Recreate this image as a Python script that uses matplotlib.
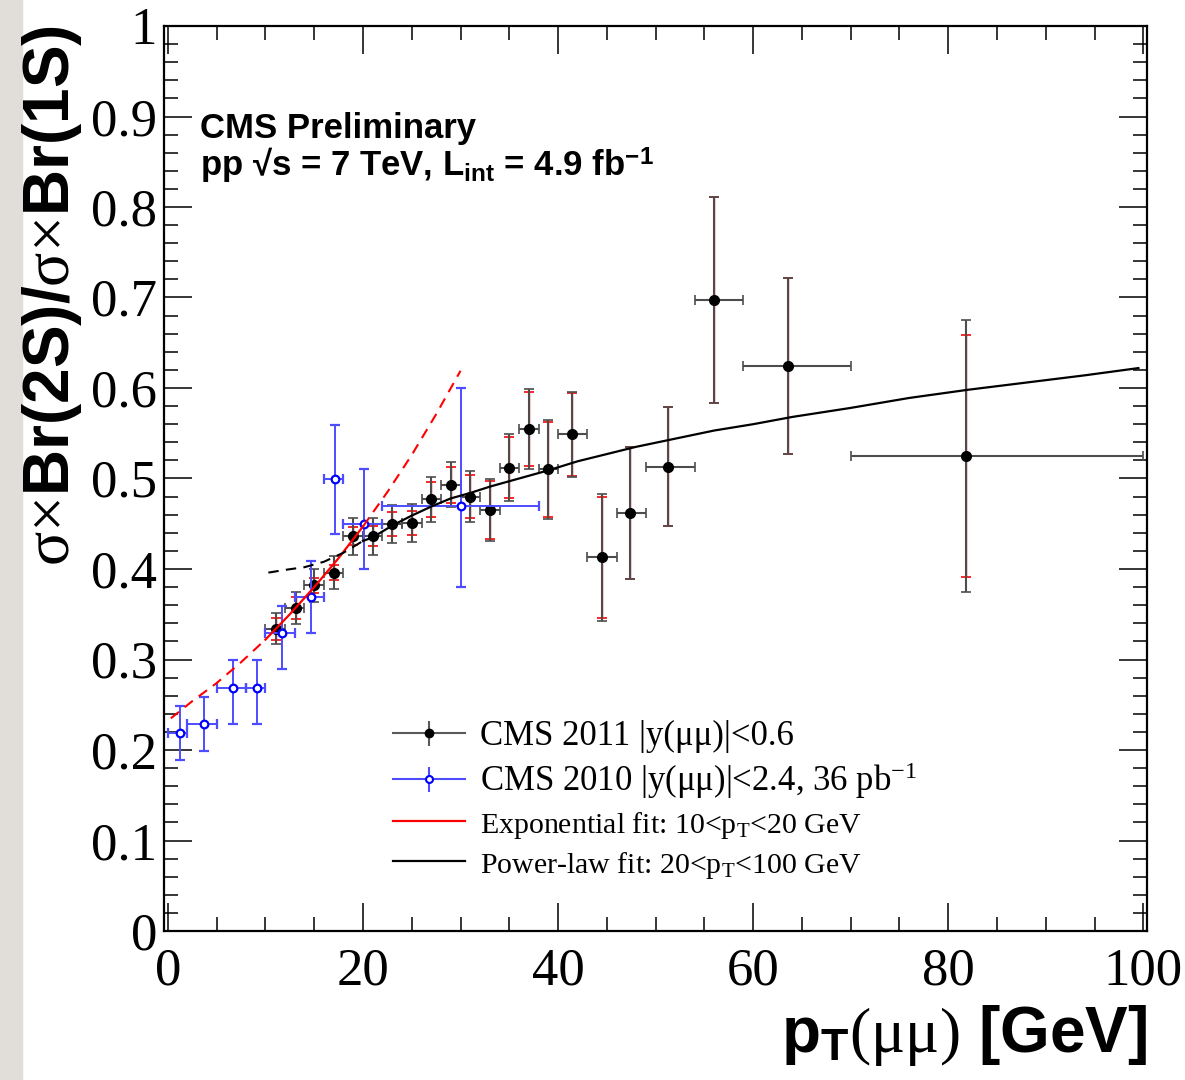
import numpy as np
import matplotlib
matplotlib.use('Agg')
import matplotlib.pyplot as plt
from matplotlib.patches import Rectangle
from matplotlib.lines import Line2D
from matplotlib.ticker import MultipleLocator, FuncFormatter

plt.rcParams['font.family'] = ['Liberation Serif', 'DejaVu Serif']
plt.rcParams['mathtext.fontset'] = 'custom'
plt.rcParams['mathtext.rm'] = 'Liberation Serif'
plt.rcParams['mathtext.it'] = 'Liberation Serif:italic'
plt.rcParams['mathtext.bf'] = 'Liberation Serif:bold'

SANS = ['Liberation Sans', 'DejaVu Sans']

# CMS 2011, |y(mumu)|<0.6
pt11 = np.array([11.1, 13.1, 15.0, 17.0, 19.0, 21.0, 23.0, 25.0, 27.0, 29.0, 31.0,
                 33.0, 35.0, 37.0, 39.0, 41.4, 44.5, 47.4, 51.25, 56.0, 63.6, 81.85])
edges11 = np.array([10, 12, 14, 16, 18, 20, 22, 24, 26, 28, 30, 32, 34, 36, 38, 40,
                    43, 46, 49, 54, 59, 70, 100])
ratio11 = np.array([0.334, 0.357, 0.382, 0.396, 0.436, 0.436, 0.450, 0.451, 0.477,
                    0.493, 0.480, 0.465, 0.512, 0.555, 0.510, 0.549, 0.413, 0.462,
                    0.513, 0.697, 0.624, 0.525])
tot11 = np.array([0.017, 0.0175, 0.018, 0.018, 0.020, 0.020, 0.021, 0.021, 0.025,
                  0.025, 0.028, 0.034, 0.037, 0.044, 0.055, 0.047, 0.070, 0.073,
                  0.066, 0.114, 0.097, 0.150])
stat11 = np.array([0.012, 0.012, 0.008, 0.008, 0.010, 0.011, 0.013, 0.013, 0.019,
                   0.020, 0.024, 0.032, 0.034, 0.041, 0.052, 0.046, 0.067, 0.073,
                   0.066, 0.114, 0.097, 0.134])

# CMS 2010, |y(mumu)|<2.4
pt10 = np.array([1.23, 3.66, 6.7, 9.16, 11.7, 14.67, 17.1, 20.1, 30.05])
lo10 = np.array([0, 2, 5, 8, 10, 13, 16, 18, 22])
hi10 = np.array([2, 5, 8, 10, 13, 16, 18, 22, 38])
ratio10 = np.array([0.219, 0.229, 0.269, 0.269, 0.329, 0.369, 0.499, 0.450, 0.470])
errlo10 = np.array([0.03, 0.03, 0.04, 0.04, 0.04, 0.04, 0.06, 0.05, 0.09])
errhi10 = np.array([0.03, 0.03, 0.03, 0.03, 0.03, 0.04, 0.06, 0.06, 0.13])

# fit curves
exp_x = np.array([0.3, 2.5, 5, 7.5, 10, 12.5, 15, 17.5, 20, 22.5, 25, 27.5, 30])
exp_y = np.array([0.235, 0.254, 0.274, 0.297, 0.322, 0.350, 0.380, 0.412, 0.447,
                  0.485, 0.526, 0.571, 0.619])
pw_x = np.array([10.3, 12, 14, 16, 18, 20, 21, 23, 25, 27, 29, 31, 33, 36, 39, 42,
                 45, 48, 52, 56, 60, 64, 70, 76, 82, 88, 94, 99.5])
pw_y = np.array([0.396, 0.399, 0.402, 0.408, 0.418, 0.431, 0.435, 0.448, 0.459,
                 0.469, 0.478, 0.484, 0.491, 0.500, 0.509, 0.519, 0.527, 0.535,
                 0.544, 0.553, 0.560, 0.568, 0.578, 0.589, 0.598, 0.606, 0.614, 0.622])

W, H = 1185, 1080
fig = plt.figure(figsize=(W / 100, H / 100), dpi=100)
fig.patches.append(Rectangle((0, 0), 22 / W, 1, transform=fig.transFigure,
                             color='#e1deda', zorder=0))
ax = fig.add_axes([164 / W, 1 - 931 / H, (1146.7 - 164) / W, (931 - 26) / H])

xerr11 = [pt11 - edges11[:-1], edges11[1:] - pt11]
ax.errorbar(pt11, ratio11, yerr=stat11, fmt='none', ecolor='red', elinewidth=1.0,
            capsize=3.5, capthick=1.2, zorder=3)
ax.errorbar(pt11, ratio11, xerr=xerr11, yerr=tot11, fmt='o', color='black', ms=7,
            ecolor='0.3', elinewidth=1.5, capsize=3.5, capthick=1.2, zorder=4)

ax.errorbar(pt10, ratio10, xerr=[pt10 - lo10, hi10 - pt10], yerr=[errlo10, errhi10],
            fmt='o', mfc='white', mec='blue', mew=1.6, ms=5.5, ecolor='#4d4dff',
            elinewidth=1.4, capsize=3.5, capthick=1.2, zorder=5)

# exponential fit: solid 10-20, dashed outside
m_in = (exp_x >= 10) & (exp_x <= 20)
ax.plot(exp_x[exp_x <= 10], exp_y[exp_x <= 10], color='red', lw=1.5, ls=(0, (5, 3.5)), zorder=6)
ax.plot(exp_x[exp_x >= 20], exp_y[exp_x >= 20], color='red', lw=1.5, ls=(0, (5, 3.5)), zorder=6)
ax.plot(exp_x[m_in], exp_y[m_in], color='red', lw=1.6, zorder=6)
# power-law fit: dashed below 20, solid above
ax.plot(pw_x[pw_x <= 20], pw_y[pw_x <= 20], color='black', lw=1.5, ls=(0, (5, 3.5)), zorder=6)
ax.plot(pw_x[pw_x >= 20], pw_y[pw_x >= 20], color='black', lw=1.6, zorder=6)

ax.set_xlim(-0.4, 100.35)
ax.set_ylim(0, 1)
ax.xaxis.set_major_locator(MultipleLocator(20))
ax.xaxis.set_minor_locator(MultipleLocator(5))
ax.yaxis.set_major_locator(MultipleLocator(0.1))
ax.yaxis.set_minor_locator(MultipleLocator(0.02))
ax.yaxis.set_major_formatter(FuncFormatter(lambda v, p: f'{v:g}'))
ax.tick_params(which='both', direction='in', top=True, right=True, labelsize=38)
ax.tick_params(which='major', length=20, width=1.1)
ax.tick_params(which='minor', length=10, width=1.1)
ax.tick_params(axis='x', pad=12)
ax.tick_params(axis='y', pad=5)
for s in ax.spines.values():
    s.set_linewidth(1.6)

# legend
h11 = (Line2D([], [], color='0.35', lw=1.5, marker='|', ms=18, mew=1.5),
       Line2D([], [], ls='none', marker='o', color='black', ms=6))
h10 = (Line2D([], [], color='#4d4dff', lw=1.5, marker='|', ms=18, mew=1.5),
       Line2D([], [], ls='none', marker='o', mfc='white', mec='blue', mew=1.5, ms=5))
hexp = Line2D([], [], color='red', lw=1.6)
hpw = Line2D([], [], color='black', lw=1.6)
leg = ax.legend([h11, h10, hexp, hpw],
                ['CMS 2011 |y(μμ)|<0.6',
                 r'CMS 2010 |y(μμ)|<2.4, 36 pb$^{\mathregular{-1}}$',
                 r'Exponential fit: 10<p$_{\mathregular{T}}$<20 GeV',
                 r'Power-law fit: 20<p$_{\mathregular{T}}$<100 GeV'],
                loc='upper left', bbox_to_anchor=(393 / W, 1 - 720 / H),
                bbox_transform=fig.transFigure, frameon=False, borderpad=0,
                borderaxespad=0, handlelength=2.07, handletextpad=0.43,
                labelspacing=0.22, prop={'family': 'Liberation Serif', 'size': 25})
for t in leg.get_texts()[2:]:
    t.set_fontsize(21.5)

fig.text(200 / W, 1 - 138 / H, 'CMS Preliminary', fontsize=25, fontweight='bold',
         family=SANS, va='baseline')
fig.text(200 / W, 1 - 177 / H,
         r'pp √s = 7 TeV, L$_{\mathregular{int}}$ = 4.9 fb$^{\mathregular{-1}}$',
         fontsize=25, fontweight='bold', family=SANS, va='baseline')

fig.text(1147 / W, 1 - 1052 / H, r'p$_{\mathregular{T}}\mathrm{(μμ)}$ [GeV]',
         fontsize=46, fontweight='bold', family=SANS, ha='right', va='baseline')
fig.text(84 / W, 1 - 25 / H, r'$\mathrm{σ×}$Br(2S)/$\mathrm{σ×}$Br(1S)',
         fontsize=46, fontweight='bold', family=SANS, rotation=90,
         ha='right', va='top')

fig.savefig('out.png', dpi=100)
